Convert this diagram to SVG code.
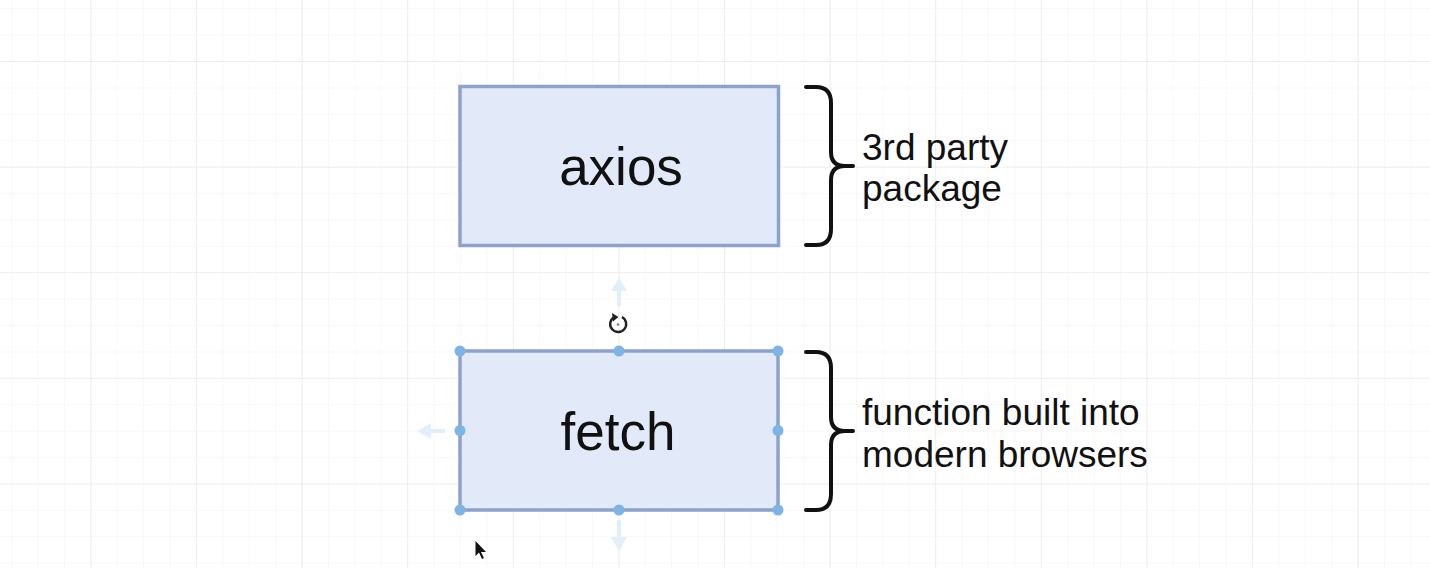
<svg xmlns="http://www.w3.org/2000/svg" width="1430" height="568" viewBox="0 0 1430 568">
  <defs>
    <pattern id="minor" width="26.4" height="26.4" patternUnits="userSpaceOnUse" x="11.2" y="8.2">
      <path d="M0,0 H26.4 M0,0 V26.4" fill="none" stroke="#f1f1f1" stroke-width="1"/>
    </pattern>
    <pattern id="major" width="105.6" height="105.6" patternUnits="userSpaceOnUse" x="90.4" y="61">
      <path d="M0,0 H105.6 M0,0 V105.6" fill="none" stroke="#e6e6e6" stroke-width="1.2"/>
    </pattern>
    <style>
      .box { fill: #e2eafa; stroke: #8ca2cc; stroke-width: 3.5; }
      .big { font-family: "Liberation Sans", Arial, sans-serif; font-size: 53px; fill: #111; text-anchor: middle; }
      .lbl { font-family: "Liberation Sans", Arial, sans-serif; font-size: 37px; fill: #111; }
      .brace { fill: none; stroke: #111; stroke-width: 4; stroke-linecap: round; stroke-linejoin: round; }
      .handle { fill: #7db4e6; }
      .hint { fill: none; stroke: #e3eefb; stroke-width: 4; }
      .hinthead { fill: #e3eefb; }
    </style>
  </defs>
  <rect width="1430" height="568" fill="#ffffff"/>
  <rect width="1430" height="568" fill="url(#minor)"/>
  <rect width="1430" height="568" fill="url(#major)"/>

  <g id="axios">
    <rect class="box" x="460" y="86.5" width="318.5" height="159"/>
    <text class="big" x="621" y="185">axios</text>
  </g>

  <g id="fetch">
    <rect class="box" x="460" y="351" width="318" height="159"/>
    <text class="big" x="618" y="450">fetch</text>
  </g>

  <g id="selection">
    <circle class="handle" cx="460" cy="351" r="5.5"/>
    <circle class="handle" cx="619" cy="351" r="5.5"/>
    <circle class="handle" cx="778" cy="351" r="5.5"/>
    <circle class="handle" cx="460" cy="430.5" r="5.5"/>
    <circle class="handle" cx="778" cy="430.5" r="5.5"/>
    <circle class="handle" cx="460" cy="510" r="5.5"/>
    <circle class="handle" cx="619" cy="510" r="5.5"/>
    <circle class="handle" cx="778" cy="510" r="5.5"/>
    <line class="hint" x1="619" y1="306" x2="619" y2="287"/>
    <path class="hinthead" d="M611,291 L619,278 L627,291 Z"/>
    <line class="hint" x1="445" y1="431" x2="428" y2="431"/>
    <path class="hinthead" d="M431,423 L417,431 L431,439 Z"/>
    <line class="hint" x1="619" y1="520" x2="619" y2="540"/>
    <path class="hinthead" d="M611,537 L619,551 L627,537 Z"/>
    <path d="M622,317 A8,8 0 1 1 614,317.2" fill="none" stroke="#222" stroke-width="2.4"/>
    <path d="M612,313 L618.5,317 L613,321.5 Z" fill="#222"/>
    <circle cx="618" cy="324.5" r="1.2" fill="#777"/>
    <path d="M475.5,541 L475.5,556 L479,552.5 L482,559 L484,558 L481,552 L486,552 Z" fill="#111"/>
  </g>

  <g id="brace-axios">
    <path class="brace" d="M806,87 H816 Q831,87 831,103 V152 Q831,166 845,166 H853 M845,166 Q831,166 831,180 V229 Q831,245 816,245 H806"/>
    <text class="lbl" x="862" y="160">3rd party</text>
    <text class="lbl" x="862" y="201">package</text>
  </g>

  <g id="brace-fetch">
    <path class="brace" d="M806,352 H816 Q831,352 831,368 V417 Q831,431 845,431 H853 M845,431 Q831,431 831,445 V494 Q831,510 816,510 H806"/>
    <text class="lbl" x="862" y="425">function built into</text>
    <text class="lbl" x="862" y="467">modern browsers</text>
  </g>

  <g id="connectors"></g>
</svg>
